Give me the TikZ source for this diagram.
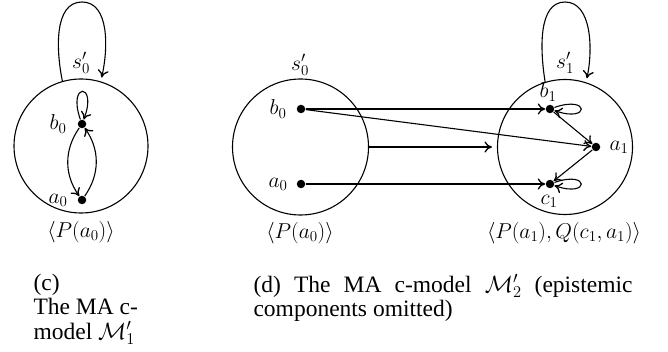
\RequirePackage{fix-cm}
\documentclass[tikz,border=0pt]{standalone}
\usepackage{fontspec}
\newfontfamily\capfont{Liberation Serif}
\usetikzlibrary{arrows.meta}
\newcommand\labfont{\fontsize{21.5}{25}\selectfont}
\newcommand\capsize{\fontsize{23.5}{25}\selectfont}
\begin{document}
\begin{tikzpicture}[x=1pt,y=-1pt,
  line width=1.1pt,
  >={To[length=7.5pt,width=11pt,line width=1.3pt]},
  world/.style={circle,draw,inner sep=0pt,minimum size=134pt},
  dot/.style={circle,fill,inner sep=0pt,minimum size=8.5pt},
  lbl/.style={inner sep=0pt,font=\labfont},
  captext/.style={inner sep=0pt,anchor=base west,font=\capfont\capsize}
]
\useasboundingbox (0,0) rectangle (668,352);

% ---------- (c) ----------
\node[world] (W1) at (81,146) {};
\node[dot] (cb) at (82,124) {};
\node[dot] (ca) at (82,200) {};
\node[lbl] (cbl) at (58,124) {$b_0$};
\node[lbl] (cal) at (58,200) {$a_0$};
\node[lbl] (cs) at (81,63) {$s_0'$};
\node[lbl] (cP) at (81,232) {$\langle P(a_0)\rangle$};
\coordinate (ctop) at (82,2);
\draw[->, shorten >=4pt] (W1.106) .. controls (56,50) and (54,2) .. (ctop)
  .. controls (110,2) and (108,50) .. (W1.73);
\draw[->] (cb) .. controls +(-15,-42) and +(16,-42) .. (cb);
\draw[->] (cb) to[bend right=35] (ca);
\draw[->] (ca) to[bend right=35] (cb);

% ---------- (d) left ----------
\node[world,minimum size=136pt] (W2) at (300.5,147) {};
\node[dot] (db) at (301,109) {};
\node[dot] (da) at (301,184) {};
\node[lbl] (dbl) at (278,109) {$b_0$};
\node[lbl] (dal) at (278,184) {$a_0$};
\node[lbl] (ds) at (300,65) {$s_0'$};
\node[lbl] (dP) at (300,233) {$\langle P(a_0)\rangle$};

% ---------- (d) right ----------
\node[world,minimum size=135pt] (W3) at (565,147) {};
\node[dot] (eb) at (550,109) {};
\node[dot] (ea) at (596,147) {};
\node[dot] (ec) at (550,184) {};
\node[lbl] (ebl) at (548,92) {$b_1$};
\node[lbl] (eal) at (619,147) {$a_1$};
\node[lbl] (ecl) at (549,201) {$c_1$};
\node[lbl] (es) at (565,63) {$s_1'$};
\node[lbl] (eP) at (564,233) {$\langle P(a_1),Q(c_1,a_1)\rangle$};
\coordinate (etop) at (565,2);
\draw[->, shorten >=4pt] (W3.107) .. controls (540,50) and (538,2) .. (etop)
  .. controls (592,2) and (593,50) .. (W3.72);

\draw[->] (db) -- (eb);
\draw[->] (db) -- (ea);
\draw[->, shorten >=5pt] (W2.east) -- (W3.west);
\draw[->] (da) -- (ec);
\draw[->] (eb) -- (ea);
\draw[->] (ea) -- (ec);
\draw[->] (eb) .. controls +(40,-14) and +(40,14) .. (eb);
\draw[->] (ec) .. controls +(40,-14) and +(40,14) .. (ec);

% ---------- captions ----------
\node[captext] (c1) at (33,290) {(c)};
\node[captext] (c2) at (33,314) {The MA c-};
\node[captext] (c3) at (33,339) {model $\mathcal{M}_1'$};
\node[captext] (d1) at (253,292) {\hbox to 379pt{(d)\hfill The\hfill MA\hfill c-model\hfill $\mathcal{M}_2'$\hfill (epistemic}};
\node[captext] (d2) at (253,316) {components omitted)};
\end{tikzpicture}
\end{document}
